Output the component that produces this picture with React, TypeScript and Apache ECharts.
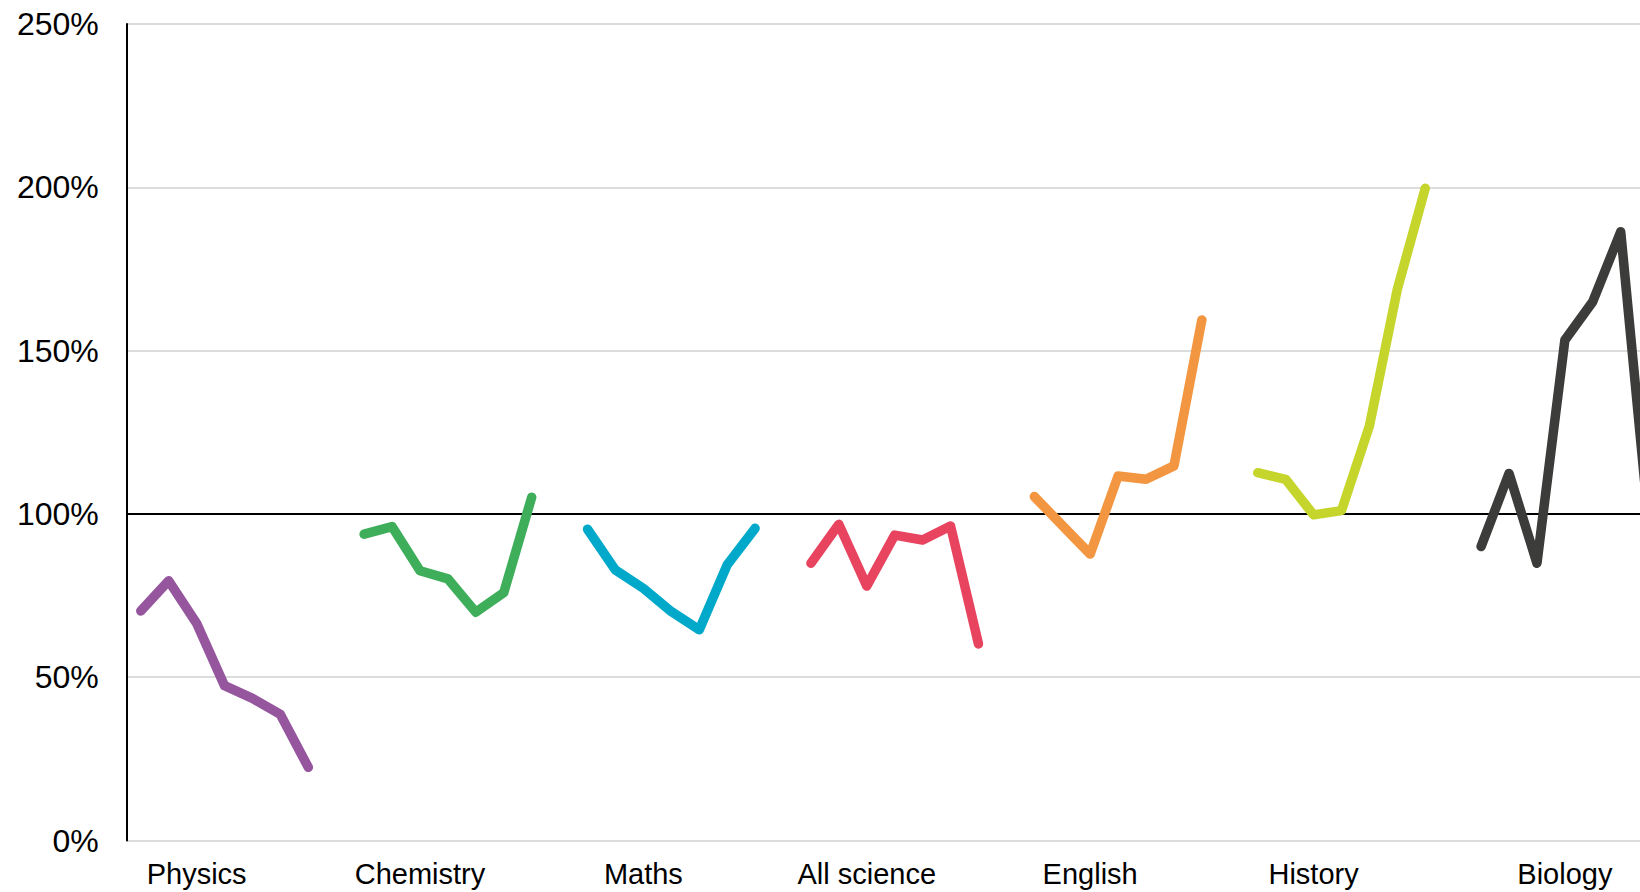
import React, { useEffect, useRef } from "react";
import * as echarts from "echarts";

const subjects = ["Physics", "Chemistry", "Maths", "All science", "English", "History", "Biology"];
const colors = ["#95569e", "#3fae5b", "#00a9c9", "#e8445f", "#f39641", "#c5d52b", "#3c3c3b"];
const labelSlot = [2, 2, 2, 2, 2, 2, 3];

const physics = [70.3, 79.5, 66.5, 47.4, 43.5, 38.6, 22.4];
const chemistry = [93.8, 96.1, 82.6, 80.1, 69.9, 75.9, 105.1];
const maths = [95.3, 82.8, 77.2, 70.1, 64.5, 84.4, 95.6];
const allScience = [84.9, 96.8, 77.9, 93.5, 92.0, 96.3, 60.2];
const english = [105.3, 96.5, 87.7, 111.6, 110.6, 114.7, 159.4];
const history = [112.6, 110.6, 99.7, 101.0, 126.9, 168.8, 199.7];
const biology = [90.0, 112.4, 84.9, 153.2, 165.0, 186.4, 97.0];

const seriesValues = [physics, chemistry, maths, allScience, english, history, biology];

const yTicks = [0, 50, 100, 150, 200, 250];
const referenceLine = 100;

const groupSize = 8;
const totalSlots = subjects.length * groupSize - 1;

export default function App() {
  const ref = useRef<HTMLDivElement>(null);

  useEffect(() => {
    if (!ref.current) return;
    const chart = echarts.init(ref.current, undefined, { renderer: "svg" });

    const categories: string[] = [];
    const labelMap: Record<string, string> = {};
    for (let i = 0; i < totalSlots; i++) {
      const g = Math.floor(i / groupSize);
      const k = i % groupSize;
      const key = `c${i}`;
      categories.push(key);
      if (k === labelSlot[g]) labelMap[key] = subjects[g];
    }

    const series = seriesValues.map((vals, g) => {
      const data: (number | string)[] = [];
      for (let i = 0; i < totalSlots; i++) {
        const gg = Math.floor(i / groupSize);
        const k = i % groupSize;
        data.push(gg === g && k < vals.length ? vals[k] : "-");
      }
      const s: any = {
        name: subjects[g],
        type: "line",
        data,
        symbol: "none",
        connectNulls: false,
        lineStyle: { color: colors[g], width: 9.5, cap: "round", join: "round" },
        itemStyle: { color: colors[g] },
        z: 3,
      };
      if (g === 0) {
        s.markLine = {
          silent: true,
          symbol: ["none", "none"],
          label: { show: false },
          lineStyle: { color: "#000", width: 2, type: "solid" },
          data: [{ yAxis: referenceLine }],
          z: 1,
        };
      }
      return s;
    });

    chart.setOption({
      animation: false,
      backgroundColor: "#fff",
      textStyle: { fontFamily: "'Liberation Sans', Arial, sans-serif" },
      grid: { left: 126.8, top: 24, bottom: 51.5, width: 1535.8 },
      xAxis: {
        type: "category",
        data: categories,
        boundaryGap: true,
        axisLine: { show: false },
        axisTick: { show: false },
        axisLabel: {
          interval: 0,
          hideOverlap: false,
          margin: 19,
          fontSize: 29,
          color: "#000",
          fontFamily: "'Liberation Sans', Arial, sans-serif",
          formatter: (v: string) => labelMap[v] || "",
        },
        splitLine: { show: false },
      },
      yAxis: {
        type: "value",
        min: yTicks[0],
        max: yTicks[yTicks.length - 1],
        interval: 50,
        axisLine: { show: true, lineStyle: { color: "#000", width: 2 } },
        axisTick: { show: false },
        axisLabel: {
          margin: 28,
          fontSize: 32,
          color: "#000",
          fontFamily: "'Liberation Sans', Arial, sans-serif",
          formatter: "{value}%",
        },
        splitLine: { show: true, lineStyle: { color: "#dcdcdc", width: 2 } },
      },
      series,
    });

    return () => chart.dispose();
  }, []);

  return (
    <div
      style={{
        position: "absolute",
        left: 0,
        top: 0,
        width: 1640,
        height: 892,
        overflow: "hidden",
        background: "#fff",
      }}
    >
      <div ref={ref} style={{ width: 1700, height: 892 }} />
    </div>
  );
}
